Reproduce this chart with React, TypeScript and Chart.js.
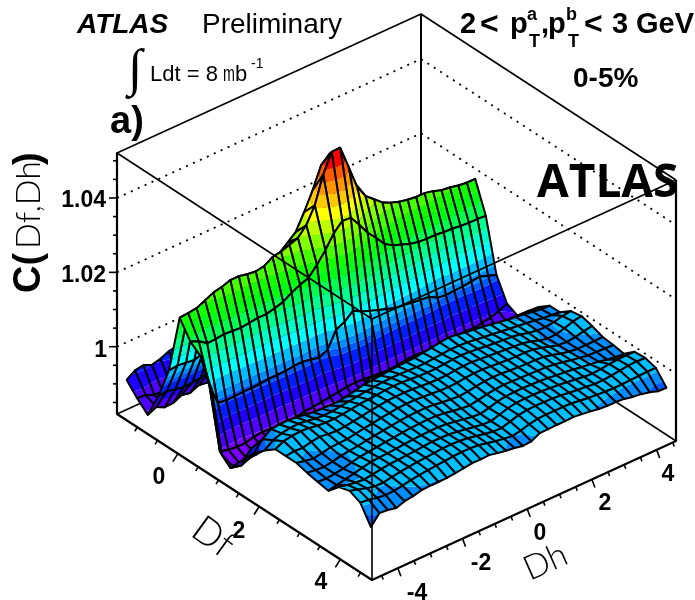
import React, { useEffect, useRef } from "react";
import { Chart, registerables } from "chart.js";

Chart.register(...registerables);

const zRow00 = [.9915,.9930,.9934,.9924,.9930,.9940,.9945,.9942,.9938,.9935,.9940,.9944,.9948,.9946,.9950,.9952,.9955,.9958,.9960,.9956,.9952,.9950,.9948,.9945,.9942,.9944,.9946,.9943,.9940,.9938,.9936,.9938,.9935,.9932,.9930,.9928];
const zRow01 = [.9884,.9882,.9873,.9870,.9880,.9885,.9888,.9886,.9884,.9882,.9885,.9888,.9890,.9892,.9895,.9898,.9900,.9902,.9905,.9900,.9896,.9894,.9892,.9890,.9888,.9890,.9888,.9886,.9884,.9882,.9880,.9882,.9880,.9878,.9876,.9875];
const zRow02 = [.9858,.9869,.9858,.9859,.9870,.9865,.9875,.9872,.9870,.9868,.9870,.9872,.9875,.9878,.9880,.9882,.9884,.9886,.9888,.9886,.9882,.9880,.9878,.9876,.9875,.9876,.9875,.9874,.9872,.9870,.9870,.9871,.9870,.9868,.9868,.9866];
const zRow03 = [.9927,.9930,.9925,.9920,.9922,.9925,.9928,.9930,.9932,.9935,.9940,.9945,.9952,.9960,.9970,.9985,1.0010,1.0050,1.0080,1.0090,1.0060,1.0030,1.0010,.9995,.9985,.9975,.9968,.9962,.9958,.9955,.9952,.9950,.9948,.9946,.9944,.9942];
const zRow04 = [1.0015,1.0018,1.0015,1.0012,1.0020,1.0025,1.0030,1.0040,1.0060,1.0085,1.0120,1.0150,1.0175,1.0193,1.0212,1.0231,1.0274,1.0322,1.0379,1.0400,1.0387,1.0350,1.0290,1.0244,1.0209,1.0180,1.0163,1.0150,1.0135,1.0125,1.0115,1.0110,1.0105,1.0100,1.0098,1.0095];
const zRow05 = [1.0175,1.0177,1.0180,1.0190,1.0201,1.0206,1.0214,1.0214,1.0209,1.0206,1.0210,1.0224,1.0228,1.0236,1.0244,1.0268,1.0311,1.0383,1.0434,1.0435,1.0373,1.0309,1.0274,1.0255,1.0236,1.0225,1.0217,1.0212,1.0209,1.0209,1.0204,1.0196,1.0193,1.0188,1.0185,1.0185];
const zRow06 = [1.0130,1.0120,1.0104,1.0105,1.0108,1.0106,1.0104,1.0107,1.0110,1.0110,1.0115,1.0122,1.0136,1.0147,1.0155,1.0180,1.0209,1.0244,1.0267,1.0265,1.0236,1.0204,1.0180,1.0153,1.0139,1.0131,1.0122,1.0117,1.0115,1.0115,1.0112,1.0111,1.0108,1.0106,1.0106,1.0104];
const zRow07 = [1.0107,1.0020,.9962,.9959,.9960,.9961,.9961,.9962,.9964,.9964,.9965,.9968,.9969,.9964,.9959,.9970,1.0013,1.0024,1.0044,1.0032,1.0023,1.0015,1.0007,.9999,.9997,.9993,.9990,.9988,.9975,.9972,.9973,.9974,.9977,.9980,.9972,.9964];
const zRow08 = [1.0040,.9860,.9855,.9852,.9852,.9858,.9861,.9860,.9854,.9858,.9860,.9864,.9866,.9868,.9872,.9875,.9878,.9880,.9878,.9876,.9874,.9872,.9875,.9878,.9880,.9878,.9875,.9876,.9878,.9880,.9882,.9880,.9884,.9888,.9895,.9905];
const zRow09 = [.9880,.9835,.9838,.9838,.9840,.9842,.9842,.9840,.9840,.9842,.9844,.9846,.9848,.9850,.9852,.9855,.9856,.9856,.9854,.9852,.9850,.9850,.9852,.9854,.9855,.9854,.9852,.9852,.9854,.9855,.9856,.9855,.9857,.9860,.9875,.9891];
const zRow10 = [.9869,.9860,.9870,.9878,.9885,.9888,.9888,.9886,.9885,.9886,.9888,.9890,.9892,.9895,.9898,.9900,.9902,.9902,.9900,.9898,.9898,.9900,.9902,.9904,.9904,.9902,.9900,.9900,.9902,.9904,.9905,.9905,.9906,.9910,.9918,.9923];
const zRow11 = [.9905,.9925,.9932,.9940,.9948,.9948,.9948,.9946,.9945,.9945,.9944,.9943,.9945,.9950,.9955,.9969,.9968,.9966,.9965,.9966,.9968,.9970,.9971,.9970,.9968,.9966,.9964,.9962,.9960,.9958,.9957,.9956,.9956,.9955,.9953,.9952];
const zRow12 = [.9941,.9968,.9985,.9987,.9988,.9985,.9982,.9978,.9977,.9976,.9976,.9980,.9985,.9990,.9992,.9994,.9996,.9998,.9999,1.0000,1.0003,1.0006,1.0010,1.0013,1.0010,1.0006,1.0003,1.0000,.9996,.9992,.9988,.9985,.9982,.9978,.9975,.9974];
const zRow13 = [.9967,.9984,.9992,.9996,.9997,.9994,.9990,.9988,.9989,.9992,.9995,.9998,1.0001,1.0003,1.0005,1.0006,1.0006,1.0005,1.0004,1.0004,1.0006,1.0008,1.0010,1.0010,1.0008,1.0005,1.0002,.9999,.9996,.9993,.9990,.9987,.9984,.9980,.9978,.9975];
const zRow14 = [.9989,1.0000,1.0004,1.0006,1.0004,1.0000,.9998,.9998,1.0000,1.0003,1.0006,1.0008,1.0010,1.0012,1.0013,1.0013,1.0011,1.0009,1.0008,1.0008,1.0010,1.0012,1.0013,1.0011,1.0009,1.0006,1.0004,1.0002,1.0000,.9996,.9990,.9986,.9985,.9988,.9994,.9997];
const zRow15 = [.9989,.9992,.9990,.9996,.9999,.9996,.9994,.9996,.9999,1.0003,1.0007,1.0010,1.0013,1.0014,1.0014,1.0013,1.0011,1.0009,1.0008,1.0009,1.0011,1.0013,1.0013,1.0011,1.0009,1.0007,1.0005,1.0003,1.0001,.9996,.9988,.9983,.9984,.9990,.9998,1.0002];
const zRow16 = [.9989,.9984,.9980,.9984,.9989,.9990,.9991,.9995,.9999,1.0002,1.0006,1.0009,1.0012,1.0013,1.0013,1.0011,1.0009,1.0007,1.0006,1.0007,1.0010,1.0012,1.0012,1.0010,1.0008,1.0006,1.0005,1.0005,1.0003,.9998,.9990,.9984,.9982,.9985,.9990,.9994];
const zRow17 = [.9981,.9978,.9976,.9980,.9985,.9988,.9991,.9995,.9998,1.0001,1.0004,1.0007,1.0009,1.0010,1.0010,1.0008,1.0005,1.0002,1.0000,1.0002,1.0006,1.0009,1.0010,1.0009,1.0007,1.0005,1.0004,1.0004,1.0002,.9997,.9990,.9985,.9982,.9982,.9982,.9983];
const zRow18 = [.9975,.9974,.9976,.9980,.9986,.9991,.9994,.9996,.9999,1.0001,1.0004,1.0006,1.0007,1.0008,1.0007,1.0004,1.0000,.9996,.9994,.9998,1.0003,1.0006,1.0008,1.0007,1.0006,1.0005,1.0004,1.0003,1.0000,.9996,.9991,.9987,.9983,.9982,.9981,.9980];
const zRow19 = [.9970,.9975,.9980,.9985,.9990,.9995,.9997,.9998,1.0000,1.0002,1.0004,1.0005,1.0006,1.0006,1.0004,1.0000,.9996,.9992,.9990,.9995,1.0002,1.0006,1.0007,1.0007,1.0006,1.0005,1.0003,1.0000,.9998,.9995,.9991,.9988,.9985,.9980,.9976,.9975];
const zRow20 = [.9999,.9994,.9990,.9988,.9991,.9995,.9998,.9999,1.0001,1.0002,1.0004,1.0006,1.0006,1.0005,1.0002,.9998,.9994,.9990,.9989,.9996,1.0003,1.0007,1.0008,1.0008,1.0007,1.0005,1.0003,1.0000,.9997,.9994,.9992,.9994,.9997,.9999,1.0000,.9999];
const zRow21 = [1.0007,1.0000,.9993,.9988,.9988,.9992,.9996,.9999,1.0001,1.0003,1.0005,1.0007,1.0007,1.0006,1.0003,.9999,.9994,.9990,.9989,.9996,1.0003,1.0006,1.0007,1.0007,1.0006,1.0004,1.0001,.9998,.9996,.9993,.9993,.9995,.9998,1.0001,1.0002,1.0001];
const zRow22 = [.9994,.9991,.9986,.9983,.9984,.9988,.9992,.9995,.9998,1.0000,1.0002,1.0004,1.0005,1.0005,1.0003,.9998,.9993,.9989,.9986,.9990,.9997,1.0001,1.0002,1.0002,1.0002,1.0001,.9998,.9995,.9993,.9991,.9990,.9990,.9991,.9992,.9993,.9993];
const zRow23 = [.9947,.9974,.9972,.9967,.9975,.9978,.9984,.9985,.9985,.9986,.9988,.9991,.9994,.9994,.9995,.9990,.9986,.9983,.9978,.9980,.9992,.9992,.9993,.9993,.9994,.9991,.9988,.9984,.9982,.9982,.9980,.9975,.9972,.9967,.9959,.9958];

const zRows = [zRow00,zRow01,zRow02,zRow03,zRow04,zRow05,zRow06,zRow07,zRow08,zRow09,zRow10,zRow11,zRow12,zRow13,zRow14,zRow15,zRow16,zRow17,zRow18,zRow19,zRow20,zRow21,zRow22,zRow23];

const zMajorTicks = [1, 1.02, 1.04];
const zMinorTicks = [.985,.99,.995,1.005,1.01,1.015,1.025,1.03,1.035,1.045,1.05];
const dfMajorTicks = [0, 2, 4];
const dfMinorTicks = [-1,-.5,.5,1,1.5,2.5,3,3.5,4.5];
const dhMajorTicks = [-4,-2,0,2,4];
const dhMinorTicks = [-4.5,-3.5,-3,-2.5,-1.5,-1,-.5,.5,1,1.5,2.5,3,3.5,4.5];

const bandEdges = [.9865,.9895,.9925,.9955,.9970,.9987,1.0015,1.0045,1.0075,1.0105,1.0135,1.016,1.0185,1.0215,1.0245,1.0275,1.0305,1.0335,1.0365,1.0395];
const bandColors = ["#7800ff","#5000ff","#1e00ff","#001eff","#005aff","#008cff","#00beff","#00ffff","#00ffc8","#00ff8c","#00ff50","#00ff14","#14ff00","#46ff00","#82ff00","#beff00","#ffff00","#ffc800","#ff9600","#ff5a00","#ff0000"];

const DF_MIN = -1.5, DF_MAX = 4.78, DH_MIN = -4.8, DH_MAX = 4.6, Z_MIN = .9819, Z_MAX = 1.0521;
const CORNER = { x: 117, y: 414 };
const DF_SPAN = { x: 255, y: 166 };
const DH_SPAN = { x: 304, y: -139 };
const Z_PIXELS = 261;
const SANS = '"Liberation Sans", Arial, sans-serif';

type P = { x: number; y: number; z?: number };

function project(df: number, dh: number, z: number): P {
  const a = (df - DF_MIN) / (DF_MAX - DF_MIN);
  const b = (dh - DH_MIN) / (DH_MAX - DH_MIN);
  const c = (z - Z_MIN) / (Z_MAX - Z_MIN);
  return { x: CORNER.x + a * DF_SPAN.x + b * DH_SPAN.x, y: CORNER.y + a * DF_SPAN.y + b * DH_SPAN.y - c * Z_PIXELS, z };
}

function clipSide(poly: P[], level: number, keepAbove: boolean): P[] {
  const out: P[] = [];
  for (let k = 0; k < poly.length; k++) {
    const p = poly[k], q = poly[(k + 1) % poly.length];
    const pIn = keepAbove ? p.z! >= level : p.z! <= level;
    const qIn = keepAbove ? q.z! >= level : q.z! <= level;
    if (pIn) out.push(p);
    if (pIn !== qIn) {
      const t = (level - p.z!) / (q.z! - p.z!);
      out.push({ x: p.x + t * (q.x - p.x), y: p.y + t * (q.y - p.y), z: level });
    }
  }
  return out;
}

function segment(pts: P[], color = "#000", width = 1.5, dash: number[] = []) {
  return { data: pts.map((p) => ({ x: p.x, y: p.y })), showLine: true, parsing: false, fill: false, borderColor: color, borderWidth: width, borderDash: dash, pointRadius: 0, tension: 0, clip: false, borderCapStyle: "butt", borderJoinStyle: "round" };
}

function surfaceDatasets() {
  const rows = zRows.length, cols = zRows[0].length;
  const dfAt = (i: number) => DF_MIN + ((i + .5) * (DF_MAX - DF_MIN)) / rows;
  const dhAt = (j: number) => DH_MIN + ((j + .5) * (DH_MAX - DH_MIN)) / cols;
  const list: any[] = [];
  for (let i = 0; i < rows - 1; i++) {
    for (let j = cols - 2; j >= 0; j--) {
      const quad = [project(dfAt(i), dhAt(j), zRows[i][j]), project(dfAt(i + 1), dhAt(j), zRows[i + 1][j]), project(dfAt(i + 1), dhAt(j + 1), zRows[i + 1][j + 1]), project(dfAt(i), dhAt(j + 1), zRows[i][j + 1])];
      for (let b = 0; b < bandColors.length; b++) {
        let poly = quad;
        if (b > 0) poly = clipSide(poly, bandEdges[b - 1], true);
        if (poly.length && b < bandEdges.length) poly = clipSide(poly, bandEdges[b], false);
        if (poly.length < 3) continue;
        list.push({ data: poly.map((p) => ({ x: p.x, y: p.y })), showLine: true, parsing: false, fill: "shape", backgroundColor: bandColors[b], borderWidth: 0, pointRadius: 0, tension: 0, clip: false });
      }
      list.push(segment([...quad, quad[0]], "#000", 2));
    }
  }
  return list;
}

function backDatasets() {
  const list: any[] = [];
  const bb = (z: number) => project(DF_MIN, DH_MAX, z);
  const lb = (z: number) => project(DF_MIN, DH_MIN, z);
  const rb = (z: number) => project(DF_MAX, DH_MAX, z);
  zMajorTicks.forEach((z) => list.push(segment([lb(z), bb(z), rb(z)], "#000", 1.8, [2, 5.6])));
  list.push(segment([lb(Z_MIN), bb(Z_MIN), rb(Z_MIN)], "#000", 1.5));
  list.push(segment([lb(Z_MAX), bb(Z_MAX), rb(Z_MAX)], "#000", 1.6));
  list.push(segment([bb(Z_MIN), bb(Z_MAX)], "#000", 2));
  return list;
}

function frontDatasets() {
  const list: any[] = [];
  const lc = (z: number) => project(DF_MIN, DH_MIN, z);
  const fc = (z: number) => project(DF_MAX, DH_MIN, z);
  const rc = (z: number) => project(DF_MAX, DH_MAX, z);
  list.push(segment([lc(Z_MAX), fc(Z_MAX), rc(Z_MAX)], "#000", 1.6));
  list.push(segment([fc(Z_MAX), fc(Z_MIN)], "#000", 1.6));
  list.push(segment([lc(Z_MAX), lc(Z_MIN), fc(Z_MIN), rc(Z_MIN), rc(Z_MAX)], "#000", 2.2));
  const zTick = (z: number, len: number) => { const p = lc(z); list.push(segment([p, { x: p.x - len, y: p.y }], "#000", 1.6)); };
  zMajorTicks.forEach((z) => zTick(z, 8));
  zMinorTicks.forEach((z) => zTick(z, 4));
  const dfTick = (d: number, s: number) => { const p = project(d, DH_MIN, Z_MIN); list.push(segment([p, { x: p.x - 5 * s, y: p.y + 8 * s }], "#000", 1.6)); };
  dfMajorTicks.forEach((d) => dfTick(d, 1));
  dfMinorTicks.forEach((d) => dfTick(d, .5));
  const dhTick = (d: number, s: number) => { const p = project(DF_MAX, d, Z_MIN); list.push(segment([p, { x: p.x + 3 * s, y: p.y + 8 * s }], "#000", 1.6)); };
  dhMajorTicks.forEach((d) => dhTick(d, 1));
  dhMinorTicks.forEach((d) => dhTick(d, .5));
  return list;
}

const textPlugin = {
  id: "labels",
  afterDatasetsDraw(chart: any) {
    const ctx = chart.ctx as CanvasRenderingContext2D;
    const put = (s: string, x: number, y: number, font: string, align: CanvasTextAlign = "left") => {
      ctx.font = font;
      ctx.textAlign = align;
      ctx.fillText(s, x, y);
    };
    const turned = (s: string, x: number, y: number, deg: number, font: string, align: CanvasTextAlign = "center") => {
      ctx.save();
      ctx.translate(x, y);
      ctx.rotate((deg * Math.PI) / 180);
      put(s, 0, 0, font, align);
      ctx.restore();
    };
    ctx.save();
    ctx.fillStyle = "#000";
    ctx.textBaseline = "alphabetic";
    put("ATLAS", 77, 33, `italic bold 28px ${SANS}`);
    put("Preliminary", 202, 33, `28px ${SANS}`);
    put("∫", 128, 85, `52px "Liberation Serif", serif`);
    put("Ldt = 8", 150, 81, `22px ${SANS}`);
    ctx.save();
    ctx.translate(223, 81);
    ctx.scale(.65, 1);
    put("m", 0, 0, `22px ${SANS}`);
    ctx.restore();
    put("b", 235, 81, `22px ${SANS}`);
    put("-1", 251, 68, `14px ${SANS}`);
    put("a)", 110, 133, `bold 38px ${SANS}`);

    const big = `bold 29px ${SANS}`, small = `bold 18px ${SANS}`;
    put("2", 460, 33, big);
    put("<", 480, 34, `bold 32px ${SANS}`);
    put("p", 510, 33, big);
    put("a", 527, 20, small);
    put("T", 529, 47, small);
    put(",", 541, 33, big);
    put("p", 548, 33, big);
    put("b", 566, 20, small);
    put("T", 568, 47, small);
    put("<", 584, 34, `bold 32px ${SANS}`);
    put("3", 612, 33, big);
    put("GeV", 636, 33, big);
    put("0-5%", 573, 87, `bold 28px ${SANS}`);
    put("ATLAS", 537, 197, `bold 46px "Open Sans", sans-serif`);

    const tick = `bold 23px ${SANS}`;
    put("1.04", 106, 207, tick, "right");
    put("1.02", 106, 282, tick, "right");
    put("1", 107, 357, tick, "right");
    put("0", 159, 484, tick, "center");
    put("2", 239, 538, tick, "center");
    put("4", 321, 589, tick, "center");
    put("-4", 417, 600, tick, "center");
    put("-2", 481, 570, tick, "center");
    put("0", 540, 540, tick, "center");
    put("2", 605, 510, tick, "center");
    put("4", 668, 481, tick, "center");

    turned("C(", 40, 293, -90, `bold 38px ${SANS}`, "left");
    turned("Df,Dh", 40, 249, -90, `300 34px Lato, ${SANS}`, "left");
    turned(")", 40, 165, -90, `bold 38px ${SANS}`, "left");
    turned("Df", 206, 547, 36, `300 38px Lato, ${SANS}`);
    turned("Dh", 550, 572, -24, `300 34px Lato, ${SANS}`);
    ctx.restore();
  },
};

export default function App() {
  const ref = useRef<HTMLCanvasElement>(null);
  useEffect(() => {
    const datasets = [...frontDatasets(), ...surfaceDatasets().reverse(), ...backDatasets()];
    const chart = new Chart(ref.current!, {
      type: "scatter",
      data: { datasets },
      options: {
        animation: false,
        responsive: false,
        events: [],
        layout: { padding: 0 },
        scales: {
          x: { type: "linear", min: 0, max: 695, display: false },
          y: { type: "linear", min: 0, max: 600, reverse: true, display: false },
        },
        plugins: { legend: { display: false }, tooltip: { enabled: false }, filler: { drawTime: "beforeDatasetDraw" } },
      },
      plugins: [textPlugin],
    } as any);
    return () => chart.destroy();
  }, []);
  return (
    <div style={{ position: "absolute", left: 0, top: 0, width: 695, height: 600 }}>
      <canvas ref={ref} width={695} height={600} style={{ display: "block" }} />
    </div>
  );
}
